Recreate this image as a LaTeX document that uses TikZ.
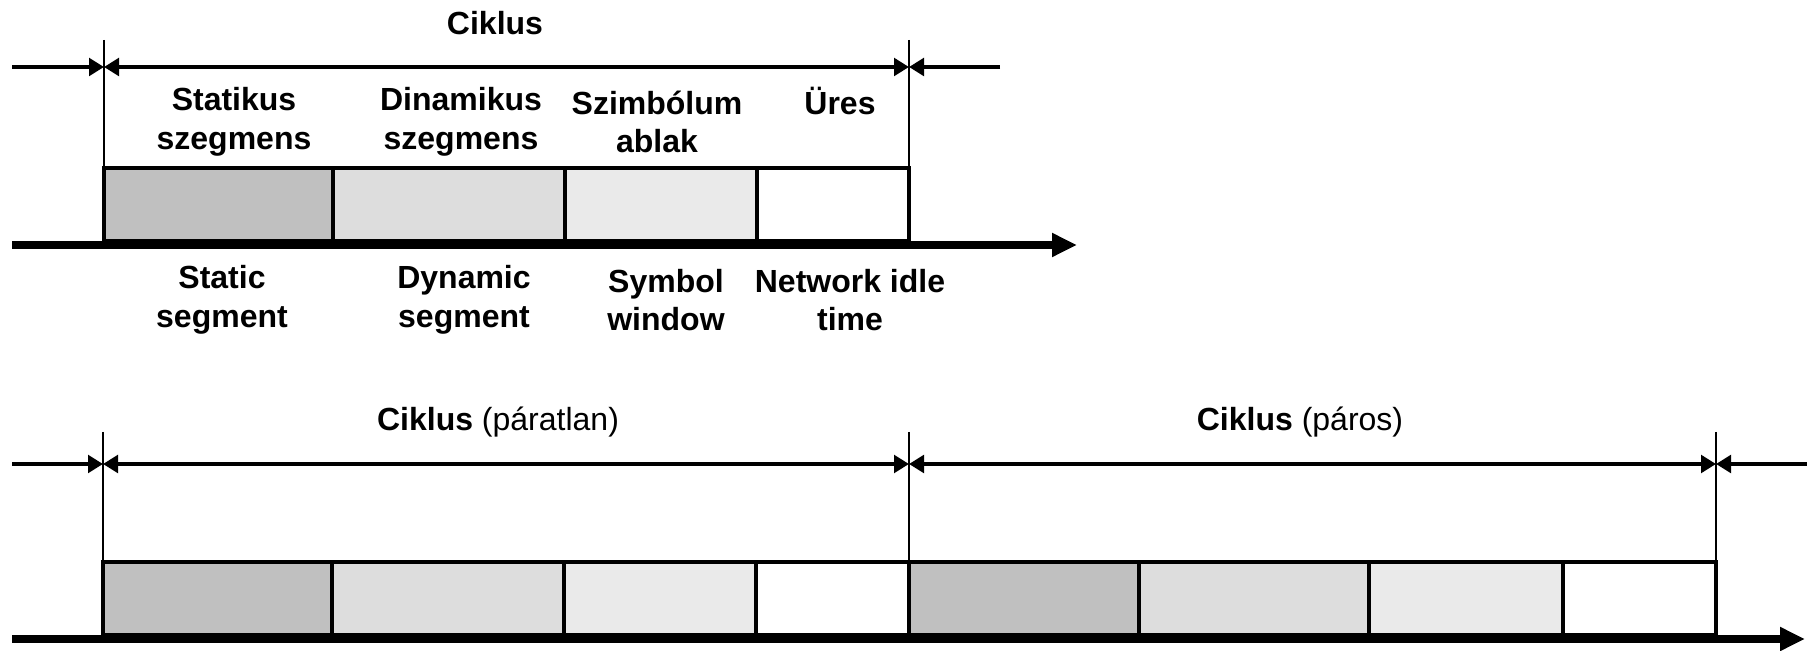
\documentclass[tikz,border=0pt]{standalone}
\usepackage{fontspec}
\setmainfont{Liberation Sans}
\usetikzlibrary{arrows.meta}
\definecolor{statgray}{HTML}{C0C0C0}
\definecolor{dyngray}{HTML}{DDDDDD}
\definecolor{symgray}{HTML}{EAEAEA}
\begin{document}
\begin{tikzpicture}[x=0.4pt,y=-0.4pt,
    seg/.style={rectangle,draw,line width=1.6pt,minimum height=29.2pt,inner sep=0pt},
    lbl/.style={align=center,inner sep=0pt,font=\fontsize{12.8pt}{15.4pt}\selectfont\bfseries},
    ttl/.style={inner sep=0pt,font=\fontsize{12.8pt}{15.4pt}\selectfont},
    tick/.style={line width=0.6pt},
    span/.style={line width=1.6pt,{Triangle[length=6pt,width=7pt]}-{Triangle[length=6pt,width=7pt]}},
    into/.style={line width=1.6pt,-{Triangle[length=6pt,width=7pt]}},
    axis/.style={line width=3.2pt,-{Triangle[length=10pt,width=9pt]}}]
    \useasboundingbox (0,0) rectangle (1807,651);

    %one cycle
    \node (C0) at (495,23) [lbl]{Ciklus};
    \node (A1) at (218.5,204.5) [seg,minimum width=91.6pt,fill=statgray]{};
    \node (A2) at (449,204.5) [seg,minimum width=92.8pt,fill=dyngray]{};
    \node (A3) at (661,204.5) [seg,minimum width=76.8pt,fill=symgray]{};
    \node (A4) at (833,204.5) [seg,minimum width=60.8pt,fill=white]{};

    %hungarian names
    \node (H1) at (234,122) [lbl]{Statikus\\szegmens};
    \node (H2) at (461,122) [lbl]{Dinamikus\\szegmens};
    \node (H3) at (657,122) [lbl]{Szimbólum\\ablak};
    \node (H4) at (840,101) [lbl]{Üres};

    %english names
    \node (E1) at (222,300) [lbl]{Static\\segment};
    \node (E2) at (464,300) [lbl]{Dynamic\\segment};
    \node (E3) at (666,300) [lbl]{Symbol\\window};
    \node (E4) at (850,300) [lbl]{Network idle\\time};

    \coordinate (T0) at (104,40);
    \coordinate (T1) at (909,40);
    \coordinate (T0a) at (104,67);
    \coordinate (T1a) at (909,67);
    \coordinate (Tin) at (12,67);
    \coordinate (Tout) at (1000,67);
    \coordinate (Tstart) at (12,245);
    \coordinate (Tend) at (1077,245);

    \draw [tick] (T0) to (T0 |- A1.north);
    \draw [tick] (T1) to (T1 |- A4.north);
    \draw [into] (Tin) to (T0a);
    \draw [span] (T0a) to (T1a);
    \draw [into] (Tout) to (T1a);
    \draw [axis] (Tstart) to (Tend);

    %two cycles
    \node (C1) at (498,422) [ttl]{\textbf{Ciklus} (páratlan)};
    \node (C2) at (1300,422) [ttl]{\textbf{Ciklus} (páros)};
    \node (B1) at (217.5,598.5) [seg,minimum width=91.6pt,fill=statgray]{};
    \node (B2) at (448,598.5) [seg,minimum width=92.8pt,fill=dyngray]{};
    \node (B3) at (660,598.5) [seg,minimum width=76.8pt,fill=symgray]{};
    \node (B4) at (832.5,598.5) [seg,minimum width=61.2pt,fill=white]{};
    \node (B5) at (1024,598.5) [seg,minimum width=92pt,fill=statgray]{};
    \node (B6) at (1254,598.5) [seg,minimum width=92pt,fill=dyngray]{};
    \node (B7) at (1466,598.5) [seg,minimum width=77.6pt,fill=symgray]{};
    \node (B8) at (1639.5,598.5) [seg,minimum width=61.2pt,fill=white]{};

    \coordinate (U0) at (103,432);
    \coordinate (U1) at (909,432);
    \coordinate (U2) at (1716,432);
    \coordinate (U0a) at (103,464);
    \coordinate (U1a) at (909,464);
    \coordinate (U2a) at (1716,464);
    \coordinate (Uin) at (12,464);
    \coordinate (Uout) at (1807,464);
    \coordinate (Ustart) at (12,639);
    \coordinate (Uend) at (1805,639);

    \draw [tick] (U0) to (U0 |- B1.north);
    \draw [tick] (U1) to (U1 |- B5.north);
    \draw [tick] (U2) to (U2 |- B8.north);
    \draw [into] (Uin) to (U0a);
    \draw [span] (U0a) to (U1a);
    \draw [span] (U1a) to (U2a);
    \draw [into] (Uout) to (U2a);
    \draw [axis] (Ustart) to (Uend);
\end{tikzpicture}
\end{document}
